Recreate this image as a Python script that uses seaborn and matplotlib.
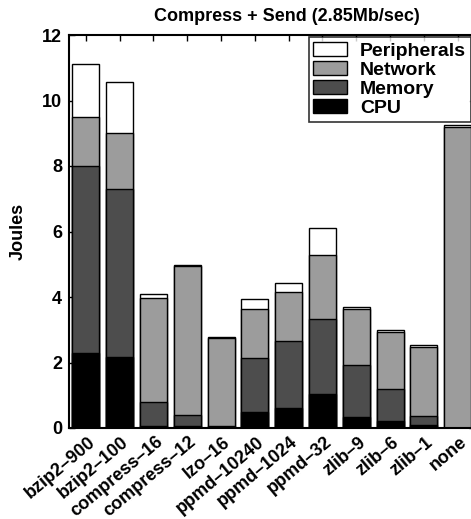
import matplotlib
matplotlib.use("Agg")
import matplotlib.pyplot as plt
import matplotlib.transforms as mtrans
import seaborn as sns
import pandas as pd
import numpy as np
from matplotlib.patches import Patch

sns.set_style("ticks")
plt.rcParams['font.family'] = ['Liberation Sans', 'DejaVu Sans']
plt.rcParams['font.weight'] = 'bold'
plt.rcParams['text.color'] = 'black'
plt.rcParams['axes.labelcolor'] = 'black'
plt.rcParams['xtick.color'] = 'black'
plt.rcParams['ytick.color'] = 'black'

categories = ["bzip2–900", "bzip2–100", "compress–16", "compress–12", "lzo–16",
              "ppmd–10240", "ppmd–1024", "ppmd–32", "zlib–9", "zlib–6", "zlib–1", "none"]
cpu =         [2.28, 2.16, 0.07, 0.06, 0.03, 0.48, 0.60, 1.03, 0.35, 0.21, 0.09, 0.00]
memory =      [5.72, 5.14, 0.73, 0.35, 0.04, 1.67, 2.06, 2.29, 1.56, 0.98, 0.29, 0.00]
network =     [1.50, 1.71, 3.17, 4.53, 2.69, 1.49, 1.48, 1.96, 1.71, 1.75, 2.09, 9.20]
peripherals = [1.60, 1.56, 0.12, 0.04, 0.01, 0.30, 0.30, 0.84, 0.06, 0.04, 0.06, 0.04]

series_names = ["CPU", "Memory", "Network", "Peripherals"]
series_colors = {"CPU": "#000000", "Memory": "#4d4d4d", "Network": "#9c9c9c", "Peripherals": "#ffffff"}

df = pd.DataFrame({"category": categories, "CPU": cpu, "Memory": memory,
                   "Network": network, "Peripherals": peripherals})
cum = df[series_names].cumsum(axis=1)

fig = plt.figure(figsize=(4.71, 5.19), dpi=100)
ax = fig.add_axes([69/471, 1-428/519, (474.5-69)/471, (428-35)/519])

# draw cumulative totals from top layer down
for name in reversed(series_names):
    sns.barplot(x=df["category"], y=cum[name], color=series_colors[name],
                edgecolor="black", linewidth=1.0, width=0.8, saturation=1,
                ax=ax, order=categories)

ax.set_ylim(0, 12)
ax.set_xlim(-0.5, 11.5)
ax.set_yticks([0, 2, 4, 6, 8, 10, 12])
ax.set_yticklabels(["0", "2", "4", "6", "8", "10", "12"], fontsize=13, fontweight='bold')
ax.set_xticks(range(len(categories)))
ax.set_xticklabels(categories, rotation=40, ha='right', va='center', rotation_mode='anchor',
                   fontsize=13, fontweight='bold')
ax.tick_params(axis='x', pad=0)
ax.tick_params(axis='y', pad=5)
ax.tick_params(axis='both', direction='in', length=4, width=1, top=True, right=True)
offset = mtrans.ScaledTranslation(0.07, -0.12, fig.dpi_scale_trans)
for lab in ax.get_xticklabels():
    lab.set_transform(lab.get_transform() + offset)
ax.set_xlabel("")
ax.set_ylabel("Joules", fontsize=13, fontweight='bold', labelpad=11)
for s in ax.spines.values():
    s.set_linewidth(1.5)
    s.set_color("black")

ax.set_title("Compress + Send (2.85Mb/sec)", fontsize=13, fontweight='bold', pad=10, x=0.538)

handles = [Patch(facecolor=series_colors[n], edgecolor="black", linewidth=1, label=n)
           for n in reversed(series_names)]
leg = ax.legend(handles=handles, loc='upper right', bbox_to_anchor=(1.0, 1 - 37/519),
                bbox_transform=fig.transFigure, borderaxespad=0, frameon=True, fancybox=False,
                prop={'weight': 'bold', 'size': 14}, handlelength=1.75, handleheight=0.72,
                labelspacing=0.07, borderpad=0.25, handletextpad=0.65)
leg.get_frame().set_edgecolor("black")
leg.get_frame().set_linewidth(1.2)

fig.savefig("out.png", dpi=100)
